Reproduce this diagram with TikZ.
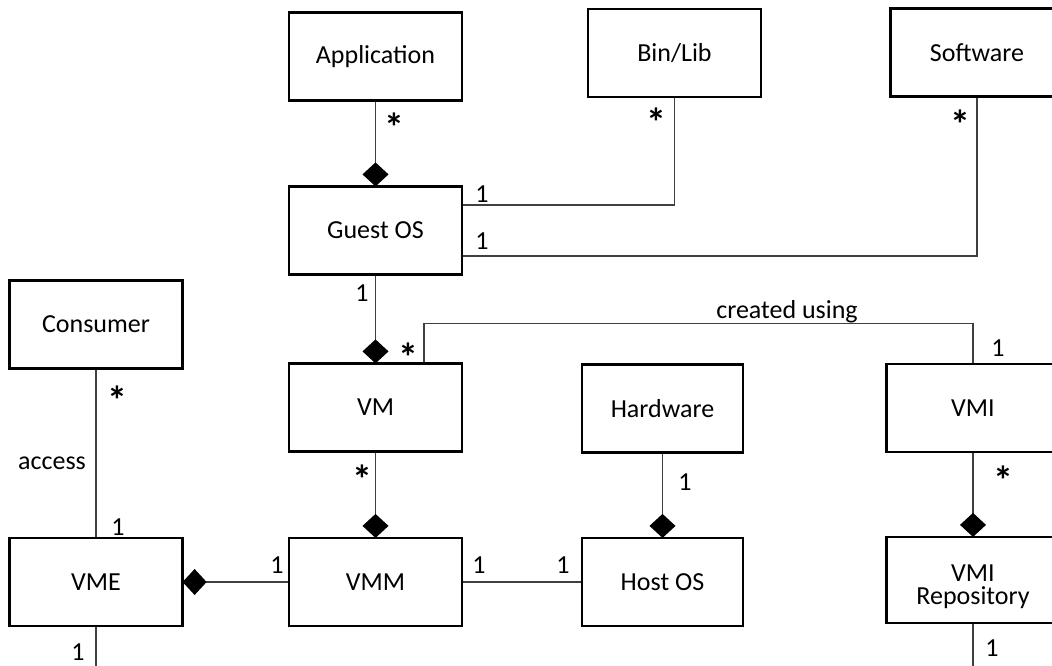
\documentclass[tikz,border=0pt]{standalone}
\usepackage{fontspec}
\setmainfont{Carlito}
\usetikzlibrary{arrows.meta}

\tikzset{
  box/.style={draw=black, line width=2.2pt, minimum width=173pt, minimum height=88pt,
    inner sep=0pt, font=\fontsize{26}{25}\selectfont, align=center},
  narrowbox/.style={box, minimum width=161pt},
  link/.style={draw=black!75, line width=1.2pt},
  comp/.style={link, -{Diamond[length=24pt, width=26pt, color=black]}, shorten >=-1pt},
  mult/.style={inner sep=0pt, font=\fontsize{26}{30}\selectfont},
  star/.style={inner sep=0pt, font=\fontsize{40}{40}\selectfont\bfseries, yshift=-7pt},
}

\begin{document}
\begin{tikzpicture}[x=1pt, y=-1pt]
  \clip (0,0) rectangle (1052,666);
  \fill[white] (0,0) rectangle (1052,666);

  % classes
  \node[box] (app)   at (375.5,56.5) {Application};
  \node[box] (bin)   at (674.5,53)   {Bin/Lib};
  \node[box] (soft)  at (977,52.5)   {Software};
  \node[box] (guest) at (375.5,230.5) {Guest OS};
  \node[box] (cons)  at (96,324.5)   {Consumer};
  \node[box] (vm)    at (375.5,407.5) {VM};
  \node[narrowbox] (hw) at (662.5,408.5) {Hardware};
  \node[box] (vmi)   at (973,408)    {VMI};
  \node[box] (vme)   at (96,582)     {VME};
  \node[box] (vmm)   at (375.5,582)  {VMM};
  \node[narrowbox] (host) at (662.5,582) {Host OS};
  \node[box, minimum height=86pt] (repo) at (973,580)
    {\raisebox{-8pt}[\height][\depth]{\begin{tabular}{@{}c@{}}VMI\\[-2pt]Repository\end{tabular}}};

  \coordinate (vmeend)  at (96,670);
  \coordinate (repoend) at (973,670);

  % compositions
  \draw[comp] (app.south)  -- (guest.north);
  \draw[comp] (guest.south) -- (vm.north);
  \draw[comp] (vm.south)   -- (vmm.north);
  \draw[comp] (hw.south)   -- (host.north);
  \draw[comp] (vmi.south)  -- (repo.north);
  \draw[comp] (vmm.west)   -- (vme.east);

  % associations
  \draw[link] ([yshift=25.5pt]guest.east) -| (bin.south);
  \draw[link] ([yshift=-25.5pt]guest.east) -| (soft.south);
  \draw[link] ([xshift=48.5pt]vm.north) -- ++(0,-39) -| (vmi.north);
  \draw[link] (vmm.east) -- (host.west);
  \draw[link] (cons.south) -- (vme.north);
  \draw[link] (vme.south) -- (vmeend);
  \draw[link] (repo.south) -- (repoend);

  % multiplicities and role names
  \node[star] (m1)  at (394,120) {*};
  \node[star] (m2)  at (656,115) {*};
  \node[star] (m3)  at (960,117) {*};
  \node[mult] (m4)  at (482,194) {1};
  \node[mult] (m5)  at (482,241) {1};
  \node[mult] (m6)  at (362,293) {1};
  \node[star] (m7)  at (408,350) {*};
  \node[mult] (cu)  at (787,312) {created using};
  \node[mult] (m8)  at (998,348) {1};
  \node[star] (m9)  at (117,393) {*};
  \node[mult] (acc) at (52,463)  {access};
  \node[mult] (m10) at (118,527) {1};
  \node[star] (m11) at (362,472) {*};
  \node[mult] (m12) at (685,482) {1};
  \node[star] (m13) at (1003,473) {*};
  \node[mult] (m14) at (277,565) {1};
  \node[mult] (m15) at (479,565) {1};
  \node[mult] (m16) at (563,565) {1};
  \node[mult] (m17) at (78,652)  {1};
  \node[mult] (m18) at (992,648) {1};
\end{tikzpicture}
\end{document}
